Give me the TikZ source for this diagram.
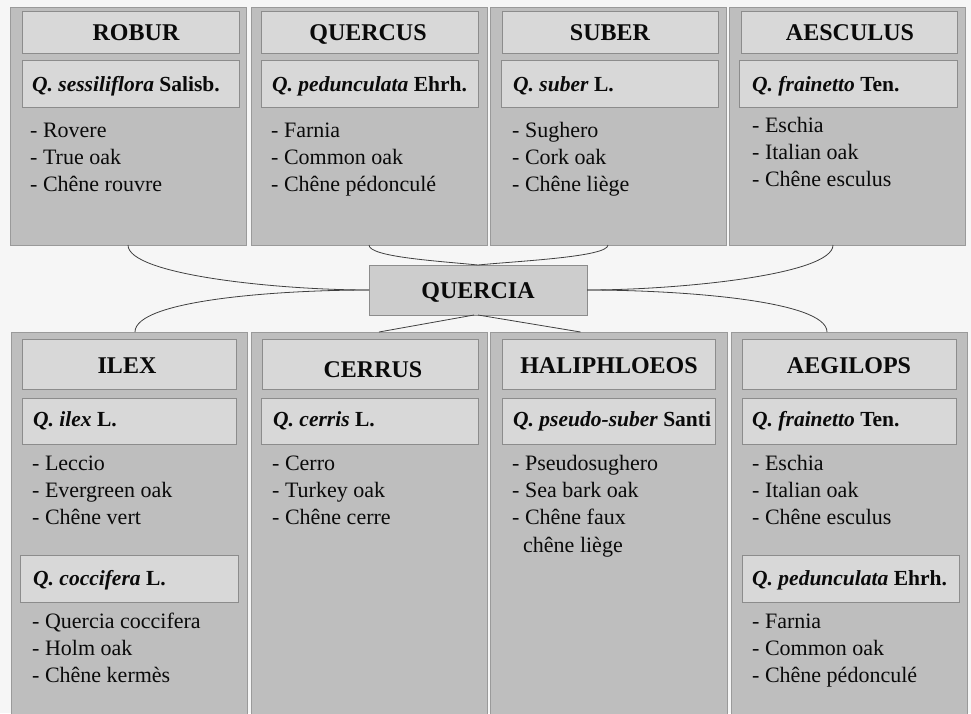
\documentclass[tikz,border=0pt]{standalone}
\usepackage{fontspec}
\setmainfont{Liberation Serif}
\definecolor{bg}{HTML}{F6F6F6}
\definecolor{panelfill}{HTML}{BEBEBE}
\definecolor{panelline}{HTML}{9A9A9A}
\definecolor{boxfill}{HTML}{D8D8D8}
\definecolor{boxline}{HTML}{8C8C8C}
\definecolor{ink}{HTML}{0A0A0A}
\definecolor{wire}{HTML}{404040}
\newcommand\hdrfont{\fontsize{24}{24}\selectfont\bfseries}
\newcommand\spfont{\fontsize{21.5}{21.5}\selectfont\bfseries}
\newcommand\bdfont{\fontsize{22}{22}\selectfont}
\tikzset{
  panel/.style={draw=panelline, fill=panelfill, line width=0.8pt, anchor=north west, inner sep=0pt, outer sep=0pt},
  hbox/.style={draw=boxline, fill=boxfill, line width=0.8pt, anchor=north west, inner sep=0pt, outer sep=0pt},
  qbox/.style={draw=boxline, fill=boxfill!95!black, line width=0.8pt, inner sep=0pt, outer sep=0pt},
  hdrtext/.style={anchor=base, inner sep=0pt, font=\hdrfont, text=ink},
  sptext/.style={anchor=base west, inner sep=0pt, font=\spfont, text=ink},
  bdtext/.style={anchor=base west, inner sep=0pt, font=\bdfont, text=ink},
  wire/.style={draw=wire, line width=0.8pt},
}
\newcommand\bodylines[4]{%
  \foreach \t [count=\i from 0] in {#4} {\node[bdtext] (#1\i) at (#2,{#3+27*\i}) {\t};}}
\begin{document}
\begin{tikzpicture}[x=1pt,y=-1pt]
\useasboundingbox (0,0) rectangle (971,713);
\fill[bg] (0,0) rectangle (971,713);

% ---------- top panels ----------
\node[panel, minimum width=236pt, minimum height=238pt] (p1) at (10,7) {};
\node[panel, minimum width=236pt, minimum height=238pt] (p2) at (251,7) {};
\node[panel, minimum width=236pt, minimum height=238pt] (p3) at (490,7) {};
\node[panel, minimum width=236pt, minimum height=238pt] (p4) at (729,7) {};

\node[hbox, minimum width=217pt, minimum height=42pt] (p1h) at (22,11) {};
\node[hbox, minimum width=217pt, minimum height=42pt] (p2h) at (261,11) {};
\node[hbox, minimum width=216pt, minimum height=42pt] (p3h) at (502,11) {};
\node[hbox, minimum width=216pt, minimum height=42pt] (p4h) at (741,11) {};

\node[hbox, minimum width=217pt, minimum height=47pt] (p1s) at (22,60) {};
\node[hbox, minimum width=217pt, minimum height=47pt] (p2s) at (261,60) {};
\node[hbox, minimum width=217pt, minimum height=47pt] (p3s) at (501,60) {};
\node[hbox, minimum width=218pt, minimum height=47pt] (p4s) at (739,60) {};

\node[hdrtext] (p1ht) at (136,40) {ROBUR};
\node[hdrtext] (p2ht) at (368,40) {QUERCUS};
\node[hdrtext] (p3ht) at (610,40) {SUBER};
\node[hdrtext] (p4ht) at (850,40) {AESCULUS};

\node[sptext] (p1st) at (32,91) {\textit{Q. sessiliflora} Salisb.};
\node[sptext] (p2st) at (272,91) {\textit{Q. pedunculata} Ehrh.};
\node[sptext] (p3st) at (513,91) {\textit{Q. suber} L.};
\node[sptext] (p4st) at (752,91) {\textit{Q. frainetto} Ten.};

\bodylines{p1b}{30}{137}{- Rovere,- True oak,- Chêne rouvre}
\bodylines{p2b}{271}{137}{- Farnia,- Common oak,- Chêne pédonculé}
\bodylines{p3b}{512}{137}{- Sughero,- Cork oak,- Chêne liège}
\bodylines{p4b}{752}{132}{- Eschia,- Italian oak,- Chêne esculus}

% ---------- bottom panels ----------
\node[panel, minimum width=236pt, minimum height=383pt] (b1) at (11,332) {};
\node[panel, minimum width=236pt, minimum height=383pt] (b2) at (251,332) {};
\node[panel, minimum width=237pt, minimum height=383pt] (b3) at (490,332) {};
\node[panel, minimum width=236pt, minimum height=383pt] (b4) at (731,332) {};

\node[hbox, minimum width=214pt, minimum height=50pt] (b1h) at (22,339) {};
\node[hbox, minimum width=216pt, minimum height=50pt] (b2h) at (262,339) {};
\node[hbox, minimum width=213pt, minimum height=50pt] (b3h) at (502,339) {};
\node[hbox, minimum width=214pt, minimum height=50pt] (b4h) at (742,339) {};

\node[hbox, minimum width=214pt, minimum height=46pt] (b1s) at (22,398) {};
\node[hbox, minimum width=217pt, minimum height=46pt] (b2s) at (261,398) {};
\node[hbox, minimum width=213pt, minimum height=46pt] (b3s) at (502,398) {};
\node[hbox, minimum width=214pt, minimum height=46pt] (b4s) at (742,398) {};

\node[hbox, minimum width=218pt, minimum height=47pt] (b1s2) at (20,555) {};
\node[hbox, minimum width=217pt, minimum height=47pt] (b4s2) at (742,555) {};

\node[hdrtext] (b1ht) at (127,373) {ILEX};
\node[hdrtext] (b2ht) at (373,377) {CERRUS};
\node[hdrtext] (b3ht) at (609,373) {HALIPHLOEOS};
\node[hdrtext] (b4ht) at (849,373) {AEGILOPS};

\node[sptext] (b1st) at (33,426) {\textit{Q. ilex} L.};
\node[sptext] (b2st) at (273,426) {\textit{Q. cerris} L.};
\node[sptext] (b3st) at (513,426) {\textit{Q. pseudo-suber} Santi};
\node[sptext] (b4st) at (752,426) {\textit{Q. frainetto} Ten.};
\node[sptext] (b1st2) at (33,585) {\textit{Q. coccifera} L.};
\node[sptext] (b4st2) at (752,585) {\textit{Q. pedunculata} Ehrh.};

\bodylines{b1b}{32}{470}{- Leccio,- Evergreen oak,- Chêne vert}
\bodylines{b2b}{272}{470}{- Cerro,- Turkey oak,- Chêne cerre}
\bodylines{b3b}{512}{470}{- Pseudosughero,- Sea bark oak,- Chêne faux}
\node[bdtext] (b3b3) at (523,552) {chêne liège};
\bodylines{b4b}{752}{470}{- Eschia,- Italian oak,- Chêne esculus}
\bodylines{b1c}{32}{628}{- Quercia coccifera,- Holm oak,- Chêne kermès}
\bodylines{b4c}{752}{628}{- Farnia,- Common oak,- Chêne pédonculé}

% ---------- centre ----------
\node[qbox, minimum width=218pt, minimum height=50pt] (q) at (478,290) {};
\node[hdrtext] (qt) at (478,298) {QUERCIA};

\draw[wire] (p1.south) .. controls +(0,30) and +(-90,0) .. (q.west);
\draw[wire] (q.west) .. controls +(-90,0) and +(0,-32) .. ([xshift=6pt]b1.north);
\draw[wire] (p2.south) .. controls +(0,12) and +(-40,-4) .. (q.north);
\draw[wire] (p3.south) .. controls +(0,12) and +(40,-4) .. (q.north);
\draw[wire] ([xshift=-4pt]q.south) -- ([xshift=10pt]b2.north);
\draw[wire] (q.south) -- ([xshift=-28pt]b3.north);
\draw[wire] (q.east) .. controls +(90,0) and +(0,30) .. ([xshift=-14pt]p4.south);
\draw[wire] (q.east) .. controls +(90,0) and +(0,-32) .. ([xshift=-22pt]b4.north);
\end{tikzpicture}
\end{document}
